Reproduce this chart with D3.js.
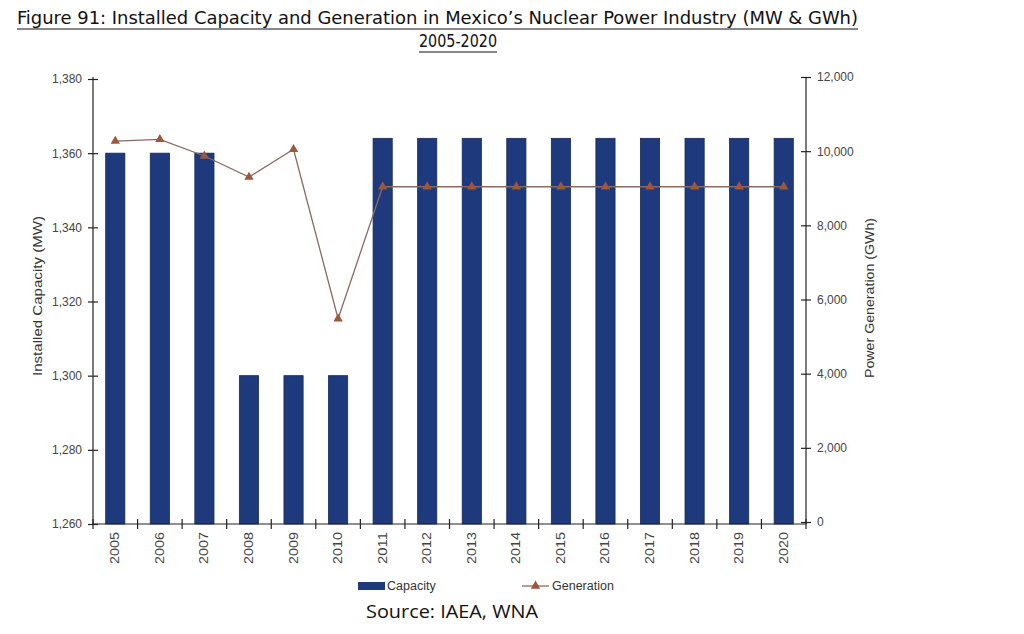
<!DOCTYPE html>
<html><head><meta charset="utf-8">
<script src="https://cdn.jsdelivr.net/npm/d3@7"></script>
<style>body{margin:0;background:#fff}svg{display:block}</style>
</head><body>
<svg id="c" width="1024" height="634"></svg>
<script>
const years = ["2005","2006","2007","2008","2009","2010","2011","2012","2013","2014","2015","2016","2017","2018","2019","2020"];
const capacity = [1360,1360,1360,1300,1300,1300,1364,1364,1364,1364,1364,1364,1364,1364,1364,1364];
const generation = [10270,10320,9870,9300,10050,5480,9040,9040,9040,9040,9040,9040,9040,9040,9040,9040];
const leftTicks = [1260,1280,1300,1320,1340,1360,1380];
const rightTicks = [0,2000,4000,6000,8000,10000,12000];

const svg = d3.select("#c");
const L = 93, R = 806, T = 79, B = 524;
const fmt = d3.format(",");
const x = d3.scaleBand().domain(years).range([L, R]).paddingInner(0.57).paddingOuter(0.285);
const yL = d3.scaleLinear().domain([1260, 1380]).range([B, T]);
const yR = d3.scaleLinear().domain([0, 12000]).range([B - 2, T - 2]);
const sans = "'Liberation Sans',Arial,sans-serif";

// title
const title = svg.append("g").attr("font-family","'DejaVu Sans Condensed','Liberation Sans',sans-serif").attr("fill","#111").attr("font-size",17);
title.append("text").attr("x",17).attr("y",24).attr("textLength",841).attr("lengthAdjust","spacingAndGlyphs")
  .text("Figure 91: Installed Capacity and Generation in Mexico\u2019s Nuclear Power Industry (MW & GWh)");
title.append("line").attr("x1",17).attr("x2",858).attr("y1",29).attr("y2",29).attr("stroke","#111").attr("stroke-width",1.2);
title.append("text").attr("x",458).attr("y",47).attr("text-anchor","middle").attr("textLength",78).attr("lengthAdjust","spacingAndGlyphs").text("2005-2020");
title.append("line").attr("x1",419).attr("x2",497).attr("y1",52).attr("y2",52).attr("stroke","#111").attr("stroke-width",1.2);

// bars
svg.append("g").selectAll("rect").data(years).join("rect")
  .attr("x", d => x(d)).attr("width", x.bandwidth())
  .attr("y", (d,i) => yL(capacity[i])).attr("height", (d,i) => B - yL(capacity[i]))
  .attr("fill", "#1f3a7c").attr("stroke","#14285a").attr("stroke-width",0.8);

// axes
const axG = svg.append("g").attr("stroke","#222").attr("stroke-width",1.2);
axG.append("line").attr("x1",L).attr("x2",L).attr("y1",T - 2).attr("y2",B);
axG.append("line").attr("x1",R).attr("x2",R).attr("y1",T - 2).attr("y2",B);
axG.append("line").attr("x1",L).attr("x2",R).attr("y1",B).attr("y2",B);

const leftAxis = d3.axisLeft(yL).tickValues(leftTicks).tickFormat(fmt).tickSizeInner(5).tickSizeOuter(0).tickPadding(6);
const gl = svg.append("g").attr("transform",`translate(${L},0)`).call(leftAxis);
gl.select(".domain").remove();
gl.selectAll(".tick line").attr("x1",5).attr("x2",-5).attr("stroke","#222").attr("stroke-width",1.2);
gl.selectAll(".tick text").attr("font-family",sans).attr("font-size",12).attr("fill","#444");

const rightAxis = d3.axisRight(yR).tickValues(rightTicks).tickFormat(fmt).tickSizeInner(5).tickSizeOuter(0).tickPadding(6);
const gr = svg.append("g").attr("transform",`translate(${R},0)`).call(rightAxis);
gr.select(".domain").remove();
gr.selectAll(".tick line").attr("x1",-5).attr("x2",5).attr("stroke","#222").attr("stroke-width",1.2);
gr.selectAll(".tick text").attr("font-family",sans).attr("font-size",12).attr("fill","#444");

// x ticks at category boundaries
const step = x.step();
const bounds = d3.range(years.length + 1).map(i => L + i * step);
svg.append("g").selectAll("line").data(bounds).join("line")
  .attr("x1", d => d).attr("x2", d => d).attr("y1", B - 5).attr("y2", B + 5)
  .attr("stroke","#222").attr("stroke-width",1.2);

// x labels
svg.append("g").selectAll("text").data(years).join("text")
  .attr("transform", d => `translate(${x(d) + x.bandwidth()/2 + 4},${B + 8}) rotate(-90)`)
  .attr("text-anchor","end").attr("font-family",sans)
  .attr("font-size",12).attr("fill","#444").attr("textLength",32).attr("lengthAdjust","spacingAndGlyphs").text(d => d);

// axis titles
svg.append("text").attr("transform",`translate(42,296) rotate(-90)`).attr("text-anchor","middle")
  .attr("font-family",sans).attr("font-size",12.5).attr("fill","#333")
  .attr("textLength",160).attr("lengthAdjust","spacingAndGlyphs")
  .text("Installed Capacity (MW)");
svg.append("text").attr("transform",`translate(874,298) rotate(-90)`).attr("text-anchor","middle")
  .attr("font-family",sans).attr("font-size",12.5).attr("fill","#333")
  .attr("textLength",160).attr("lengthAdjust","spacingAndGlyphs")
  .text("Power Generation (GWh)");

// generation line
const cx = d => x(d) + x.bandwidth()/2;
const line = d3.line().x((d,i) => cx(years[i])).y(d => yR(d));
svg.append("path").datum(generation).attr("d", line).attr("fill","none").attr("stroke","#8a6a60").attr("stroke-width",1.3);
const tri = d3.symbol().type(d3.symbolTriangle).size(38);
svg.append("g").selectAll("path").data(generation).join("path")
  .attr("transform",(d,i) => `translate(${cx(years[i])},${yR(d)})`).attr("d", tri)
  .attr("fill","#a0563a");

// legend
const lg = svg.append("g").attr("font-family",sans).attr("font-size",12.5).attr("fill","#333");
lg.append("rect").attr("x",358).attr("y",582).attr("width",27).attr("height",8).attr("fill","#1f3a7c");
lg.append("text").attr("x",387).attr("y",590).text("Capacity");
lg.append("line").attr("x1",522).attr("x2",549).attr("y1",586).attr("y2",586).attr("stroke","#8a6a60").attr("stroke-width",1.3);
lg.append("path").attr("transform","translate(535.5,586)").attr("d",tri).attr("fill","#a0563a");
lg.append("text").attr("x",552).attr("y",590).text("Generation");

// source
svg.append("text").attr("x",366).attr("y",618).attr("font-family","'Open Sans','Noto Sans',sans-serif")
  .attr("font-size",19).attr("fill","#111").attr("textLength",172).attr("lengthAdjust","spacingAndGlyphs").text("Source: IAEA, WNA");
</script>
</body></html>
